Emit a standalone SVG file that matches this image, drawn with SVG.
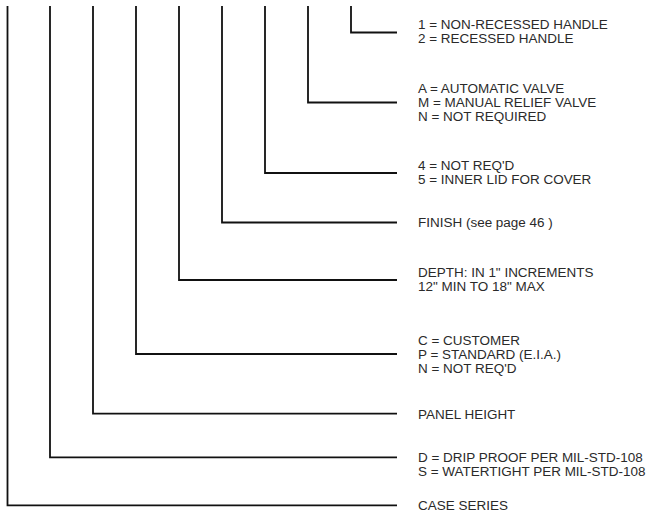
<svg xmlns="http://www.w3.org/2000/svg" width="648" height="515" viewBox="0 0 648 515">
<style>
.c{fill:none;stroke:#111;stroke-width:1.8;stroke-linejoin:miter}
text{font-family:"Liberation Sans",Arial,sans-serif;font-size:13.7px;fill:#2a2a2a}
</style>
<rect width="648" height="515" fill="#fff"/>
<g id="connectors">
<path class="c" d="M351 6V32.5H397"/>
<path class="c" d="M308 6V102.5H397"/>
<path class="c" d="M265 6V173H397"/>
<path class="c" d="M222 6V222.5H397"/>
<path class="c" d="M179 6V280H397"/>
<path class="c" d="M136 6V354H397"/>
<path class="c" d="M93 6V413.7H397"/>
<path class="c" d="M50 6V457.3H397"/>
<path class="c" d="M7.5 6V505.3H397"/>
</g>
<g id="labels" transform="translate(418 0) scale(0.985 1)">
<g id="handle"><text x="0" y="29.5">1 = NON-RECESSED HANDLE</text><text x="0" y="43.5">2 = RECESSED HANDLE</text></g>
<g id="valve"><text x="0" y="93">A = AUTOMATIC VALVE</text><text x="0" y="107">M = MANUAL RELIEF VALVE</text><text x="0" y="121">N = NOT REQUIRED</text></g>
<g id="lid"><text x="0" y="170">4 = NOT REQ'D</text><text x="0" y="184">5 = INNER LID FOR COVER</text></g>
<g id="finish"><text x="0" y="227.5">FINISH (see page 46 )</text></g>
<g id="depth"><text x="0" y="277">DEPTH: IN 1" INCREMENTS</text><text x="0" y="291">12" MIN TO 18" MAX</text></g>
<g id="panel"><text x="0" y="345">C = CUSTOMER</text><text x="0" y="359">P = STANDARD (E.I.A.)</text><text x="0" y="373">N = NOT REQ'D</text></g>
<g id="height"><text x="0" y="418.7">PANEL HEIGHT</text></g>
<g id="proof"><text x="0" y="462.5">D = DRIP PROOF PER MIL-STD-108</text><text x="0" y="476.5">S = WATERTIGHT PER MIL-STD-108</text></g>
<g id="series"><text x="0" y="510.3">CASE SERIES</text></g>
</g>
</svg>
